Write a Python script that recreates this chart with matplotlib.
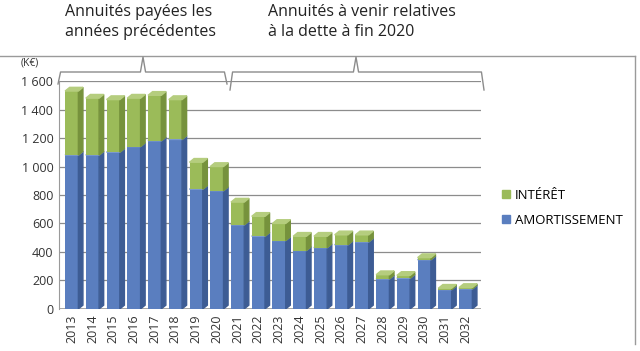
import numpy as np
import matplotlib.pyplot as plt
from matplotlib.patches import Polygon
from matplotlib.lines import Line2D

# données (K€)
years = [str(y) for y in range(2013, 2033)]
amortissement = [1080, 1080, 1100, 1140, 1180, 1190, 840, 830, 590, 510,
                 480, 410, 430, 450, 470, 210, 215, 345, 135, 140]
interet = [450, 400, 370, 340, 320, 280, 190, 170, 160, 140,
           120, 100, 80, 70, 50, 30, 20, 15, 10, 10]

blue, blue_dark, blue_top = "#5A7EBF", "#3D5C94", "#7C9AD0"
green, green_dark, green_top = "#9BBB59", "#76923C", "#B5CD7E"

plt.rcParams['font.family'] = ['Open Sans', 'DejaVu Sans']

fig = plt.figure(figsize=(6.4, 3.51), dpi=100)
ax = fig.add_axes([0.092, 0.12, 0.66, 0.649])

x = np.arange(len(years))
w = 0.64
dx, dy = 0.22, 26  # profondeur pseudo-3D

def bar3d(xi, bottom, h, face, side, top):
    ax.bar(xi, h, w, bottom=bottom, color=face, zorder=3)
    x1 = xi + w / 2
    ax.add_patch(Polygon([(x1, bottom), (x1 + dx, bottom + dy),
                          (x1 + dx, bottom + h + dy), (x1, bottom + h)],
                         closed=True, color=side, zorder=3))
    x0 = xi - w / 2
    ax.add_patch(Polygon([(x0, bottom + h), (x0 + dx, bottom + h + dy),
                          (x1 + dx, bottom + h + dy), (x1, bottom + h)],
                         closed=True, color=top, zorder=3))

for i in range(len(years)):
    bar3d(x[i], 0, amortissement[i], blue, blue_dark, blue_top)
    bar3d(x[i], amortissement[i], interet[i], green, green_dark, green_top)

ax.set_xlim(-0.62, len(years) - 0.25)
ax.set_ylim(0, 1600)
ax.set_yticks(range(0, 1601, 200))
ax.set_yticklabels(["0", "200", "400", "600", "800", "1 000", "1 200", "1 400", "1 600"],
                   fontsize=9, color="#333333")
ax.set_xticks(x)
ax.set_xticklabels(years, rotation=90, fontsize=9, color="#333333")
ax.tick_params(length=0, pad=4)
ax.grid(axis="y", color="#8c8c8c", linewidth=0.9, zorder=0)
for s in ["top", "right", "bottom"]:
    ax.spines[s].set_visible(False)
ax.spines["left"].set_color("#9a9a9a")
ax.axhline(0, color="#9a9a9a", linewidth=1.2, zorder=2)

fig.text(0.033, 0.812, "(K€)", fontsize=7.5, color="#333333")

# légende
ax.legend(handles=[plt.Rectangle((0, 0), 1, 1, color=green),
                   plt.Rectangle((0, 0), 1, 1, color=blue)],
          labels=["INTÉRÊT", "AMORTISSEMENT"],
          loc="upper left", bbox_to_anchor=(1.02, 0.58), frameon=False,
          fontsize=9.5, handlelength=0.6, handleheight=0.6, handletextpad=0.4,
          labelspacing=0.9)

# cadre
fig.add_artist(Line2D([0, 0.992], [0.84, 0.84], color="#9a9a9a", lw=1))
fig.add_artist(Line2D([0.992, 0.992], [0.84, 0.02], color="#9a9a9a", lw=1))

# accolades
H = 351.0
def fy(p):
    return 1 - p / H

def brace(xa, xm, xb, yb):
    xs = [xa / 640, xa / 640 + 0.004, xm / 640 - 0.004, xm / 640,
          xm / 640 + 0.004, xb / 640 - 0.004, xb / 640]
    ys = [fy(yb + 12), fy(72), fy(72), fy(57), fy(72), fy(72), fy(yb + 12)]
    fig.add_artist(Line2D(xs, ys, color="#8c8c8c", lw=1))

brace(58, 143, 227, 72)
brace(230, 356, 484, 78)

fig.text(65 / 640, fy(4), "Annuités payées les\nannées précédentes",
         fontsize=11.5, color="#222222", linespacing=1.3, va="top")
fig.text(268 / 640, fy(4), "Annuités à venir relatives\nà la dette à fin 2020",
         fontsize=11.5, color="#222222", linespacing=1.3, va="top")

fig.savefig("out.png", dpi=100)
